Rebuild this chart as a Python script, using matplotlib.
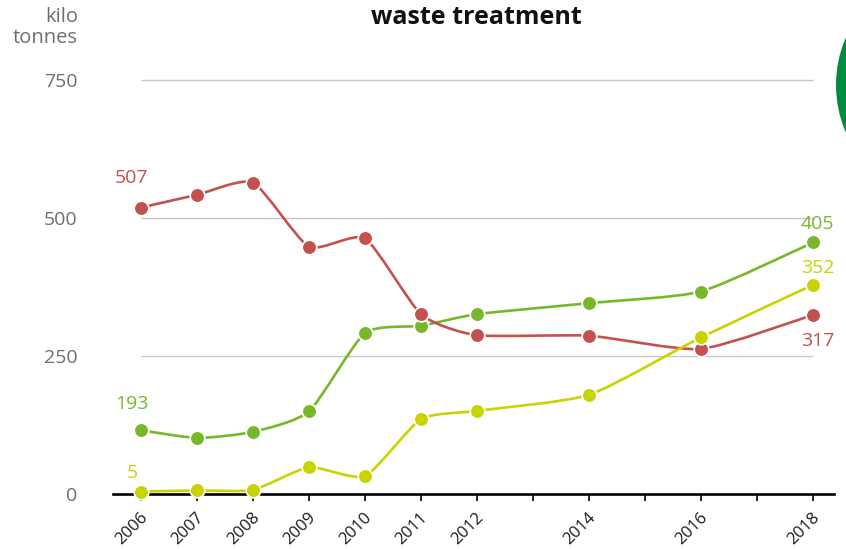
import numpy as np
import matplotlib
matplotlib.use("Agg")
import matplotlib.pyplot as plt
from matplotlib.path import Path
from matplotlib.patches import PathPatch, Circle
from matplotlib.transforms import ScaledTranslation

# kilo tonnes per year
years = [2006, 2007, 2008, 2009, 2010, 2011, 2012, 2014, 2016, 2018]
red_vals = [519, 542, 564, 448, 463, 326, 288, 287, 263, 325]
green_vals = [116, 102, 113, 150, 292, 305, 326, 346, 367, 456]
yellow_vals = [5, 7, 8, 49, 33, 136, 151, 180, 284, 379]

# numbers printed next to the first and last point of each line
red_ends = ["507", "317"]
green_ends = ["193", "405"]
yellow_ends = ["5", "352"]

tick_years = list(range(2006, 2019))
tick_labels = [str(y) if y in years else "" for y in tick_years]
y_ticks = [0, 250, 500, 750]

RED = "#c4504f"
GREEN = "#77b82a"
YELLOW = "#c9d300"

plt.rcParams["font.family"] = ["Open Sans", "DejaVu Sans"]


def cardinal_path(x, y, tension=0.4):
    # cardinal spline through the points, as bezier segments
    pts = np.column_stack([x, y]).astype(float)
    n = len(pts)
    k = (1 - tension) / 6
    ext = np.vstack([pts[1], pts, pts[-2]])
    verts = [tuple(pts[0])]
    codes = [Path.MOVETO]
    for i in range(n - 1):
        p0, p1, p2, p3 = ext[i], ext[i + 1], ext[i + 2], ext[i + 3]
        # end handles have zero length
        c1 = p1 + k * (p2 - p0) if i > 0 else p1
        c2 = p2 - k * (p3 - p1) if i < n - 2 else p2
        verts += [tuple(c1), tuple(c2), tuple(p2)]
        codes += [Path.CURVE4] * 3
    return Path(verts, codes)


fig = plt.figure(figsize=(8.46, 5.5), dpi=100)
ax = fig.add_axes([0.1332, 0.1013, 0.8526, 0.78355])
ax.set_xlim(2005.4946, 2018.375)
ax.set_ylim(0, 780)

# grid lines only between first and last year
ax.hlines([v for v in y_ticks if v > 0], years[0], years[-1], color="#c8c8c8", lw=1, zorder=1)

series = [(green_vals, GREEN, green_ends, [(-9, 26), (4, 18)]),
          (red_vals, RED, red_ends, [(-9, 30), (5, -26)]),
          (yellow_vals, YELLOW, yellow_ends, [(-9, 19), (5, 17)])]

for k, (vals, col, ends, offs) in enumerate(series):
    z = 3 + 2 * k
    ax.add_patch(PathPatch(cardinal_path(years, vals), fill=False, edgecolor=col,
                           lw=1.9, zorder=z, clip_on=False, capstyle="round"))
    ax.plot(years, vals, "o", ms=10.5, mfc=col, mec="white", mew=1.2,
            zorder=z + 1, clip_on=False)
    # first / last value labels
    for txt, idx, off in zip(ends, [0, -1], offs):
        ax.annotate(txt, xy=(years[idx], vals[idx]), xytext=off, textcoords="offset pixels",
                    ha="center", va="center", color=col, fontsize=14)

for side in ["top", "right", "left"]:
    ax.spines[side].set_visible(False)
ax.spines["bottom"].set_color("black")
ax.spines["bottom"].set_linewidth(1.9)
ax.spines["bottom"].set_zorder(2)

ax.set_xticks(tick_years)
ax.set_xticklabels(tick_labels, rotation=45, ha="center", va="top", fontsize=12, color="#1a1a1a")
ax.tick_params(axis="x", direction="out", length=5, width=1.2, color="black", pad=6)
for lbl in ax.get_xticklabels():
    lbl.set_transform(lbl.get_transform() + ScaledTranslation(-0.09, 0, fig.dpi_scale_trans))

ax.set_yticks(y_ticks)
ax.set_yticklabels([str(v) for v in y_ticks], fontsize=14, color="#6e6e6e")
ax.tick_params(axis="y", length=0, pad=25.5)

fig.text(78 / 846, 1 - 7 / 550, "kilo\ntonnes", ha="right", va="top", fontsize=14.5,
         color="#6e6e6e", linespacing=1.05)
fig.text(476 / 846, 1 - 17 / 550, "waste treatment", ha="center", va="center",
         fontsize=18, fontweight="bold", color="#111111")

# big green disc cut off at the right edge
fig.add_artist(Circle((9.56, 4.65), 1.2, transform=fig.dpi_scale_trans,
                      facecolor="#008b3e", edgecolor="none"))

fig.savefig("out.png", dpi=100)
